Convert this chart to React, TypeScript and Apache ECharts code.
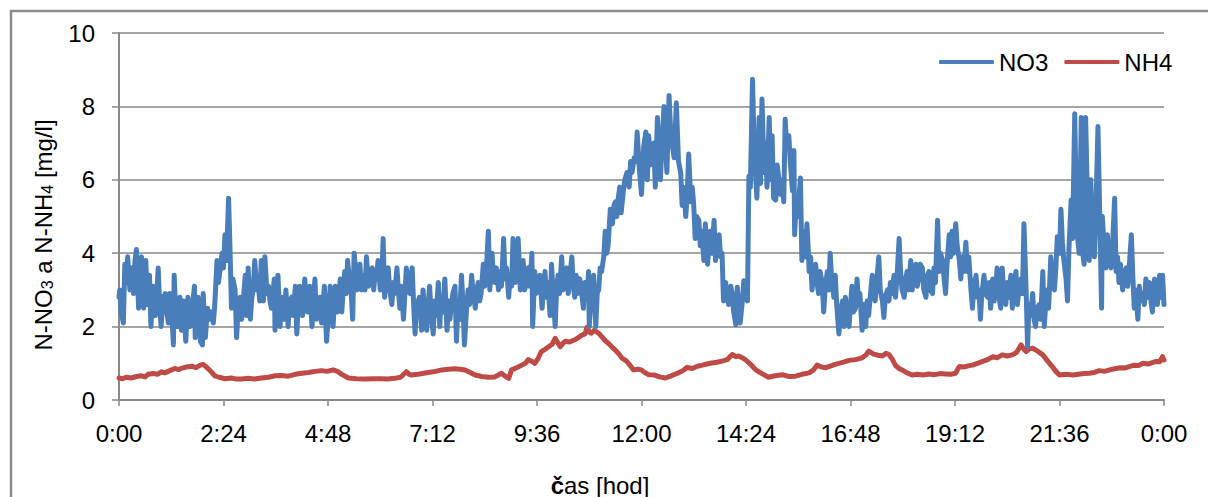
import React, { useEffect, useRef } from "react";
import * as echarts from "echarts";

// time in minutes from midnight, value in mg/l
const no3Night: [number, number][] = [
  [0, 2.8], [1, 3.0], [3, 2.4], [6, 2.1], [8, 3.7], [10, 3.2], [12, 3.9], [15, 3.0], [18, 3.6], [20, 2.9], [22, 3.8], [24, 4.1],
  [27, 2.5], [29, 3.3], [31, 3.9], [34, 2.5], [37, 3.8], [39, 2.6], [42, 3.4], [44, 2.0], [47, 3.1], [50, 2.3], [52, 2.9], [54, 3.6],
  [56, 2.6], [58, 2.0], [61, 2.8], [64, 2.9], [66, 2.4], [68, 2.1], [70, 2.9], [72, 2.6], [75, 1.5], [76, 3.4], [78, 2.5], [80, 2.0],
  [82, 2.6], [84, 2.8], [86, 1.9], [89, 2.7], [92, 1.6], [95, 2.8], [98, 2.0], [101, 2.5], [104, 3.1], [105, 1.7], [107, 2.4], [109, 2.8],
  [112, 1.6], [115, 1.5], [116, 2.9], [119, 1.7], [122, 2.5], [125, 2.2], [128, 2.4], [130, 2.1], [132, 2.6], [135, 3.8], [137, 3.2],
  [139, 3.5], [142, 4.0], [144, 3.6], [146, 4.5], [148, 3.8], [151, 5.5], [153, 4.1], [155, 2.5], [157, 3.3], [160, 3.0], [162, 1.7],
  [164, 2.4], [167, 2.8], [169, 2.2], [172, 2.9], [174, 3.4], [176, 2.3], [178, 3.6], [181, 2.2], [183, 2.8], [185, 3.0], [187, 3.8],
  [190, 3.0], [192, 3.1], [194, 2.7], [196, 3.8], [199, 2.7], [201, 3.9], [204, 2.9], [206, 3.1], [208, 2.7], [210, 2.5], [212, 2.9],
  [214, 3.3], [215, 1.9], [217, 2.7], [219, 3.4], [222, 2.0], [224, 2.8], [226, 2.6], [228, 2.2], [230, 3.0], [233, 2.0], [235, 2.7],
  [238, 2.8], [240, 2.3], [243, 3.1], [245, 1.8], [247, 2.6], [249, 3.1], [251, 2.6], [253, 2.3], [256, 3.3], [258, 2.7], [260, 2.4],
  [263, 3.1], [266, 2.0], [268, 2.7], [270, 3.3], [272, 2.2], [275, 2.6], [277, 2.8], [279, 2.1], [281, 2.6], [283, 3.1], [286, 1.6],
  [289, 2.4], [291, 3.1], [293, 2.6], [295, 2.0], [298, 3.1], [301, 2.4], [303, 2.9], [305, 3.3], [307, 2.4], [309, 3.0], [311, 3.5],
  [313, 2.9], [315, 3.8], [318, 3.2], [320, 2.9], [322, 2.2], [324, 4.0], [326, 3.6], [328, 3.0], [330, 3.3], [332, 3.7], [334, 3.0],
  [337, 3.4], [339, 3.0], [341, 3.9], [344, 3.1], [346, 3.4], [349, 3.6], [351, 3.0], [353, 3.5], [355, 3.3], [357, 3.8], [360, 3.0],
  [362, 3.2], [364, 4.4], [366, 2.8],
];

const no3Morning: [number, number][] = [
  [368, 3.4], [371, 3.6], [373, 3.0], [376, 2.6], [378, 3.2], [380, 2.9], [383, 3.6], [385, 3.0], [387, 2.5], [389, 3.1], [392, 2.2],
  [394, 2.9], [396, 3.6], [398, 3.0], [401, 2.9], [402, 3.3], [404, 3.6], [406, 2.6], [408, 1.8], [410, 2.7], [412, 2.3], [414, 2.8],
  [417, 1.9], [419, 3.0], [421, 2.4], [424, 1.9], [426, 2.6], [428, 3.1], [430, 2.4], [433, 1.8], [435, 2.7], [437, 2.3], [440, 3.2],
  [442, 2.0], [444, 2.8], [446, 2.4], [449, 3.3], [452, 1.9], [454, 2.7], [456, 2.2], [458, 2.6], [460, 2.9], [463, 3.1], [465, 1.6],
  [467, 2.6], [469, 2.2], [472, 3.4], [474, 2.6], [476, 1.5], [479, 2.5], [481, 3.0], [483, 2.6], [486, 3.4], [488, 2.9], [491, 2.5],
  [493, 3.0], [495, 3.2], [497, 2.7], [499, 2.9], [502, 3.7], [504, 3.1], [506, 3.5], [509, 4.6], [511, 3.0], [514, 4.0], [516, 3.4],
  [518, 3.2], [520, 3.6], [523, 3.0], [525, 3.5], [527, 3.1], [530, 4.4], [532, 3.3], [534, 3.6], [537, 2.8], [539, 3.4], [541, 3.1],
  [543, 4.4], [546, 3.2], [548, 3.6], [550, 4.4], [553, 3.0], [555, 3.4], [557, 3.8], [559, 3.0], [562, 3.2], [564, 3.6], [566, 3.1],
  [569, 4.0], [570, 2.0], [573, 3.5], [575, 2.9], [578, 3.0], [580, 3.4], [583, 2.5], [585, 3.0], [587, 3.5], [589, 2.8], [591, 3.2],
  [594, 2.3], [596, 3.7], [598, 3.0], [601, 2.0], [603, 3.0], [605, 3.4], [607, 2.9], [610, 3.9], [612, 3.0], [615, 3.2], [617, 3.6],
  [619, 2.9], [621, 3.3], [624, 3.9], [626, 3.1], [628, 2.8], [630, 3.4], [632, 2.9], [635, 3.3], [637, 3.0], [640, 2.5], [642, 3.2],
  [645, 2.8], [647, 3.5], [648, 2.0], [651, 3.0], [654, 3.4], [657, 2.0], [659, 2.9], [661, 3.0], [663, 3.6], [665, 3.5], [668, 3.9],
  [670, 4.6], [672, 4.0], [674, 4.2], [677, 5.2], [680, 4.8], [682, 5.3], [684, 5.4], [686, 5.0], [688, 5.5], [690, 5.8], [692, 5.1],
  [695, 5.7], [697, 6.0], [700, 6.2], [703, 5.8], [705, 6.5], [707, 6.2], [710, 6.6],
];

const no3Afternoon: [number, number][] = [
  [712, 6.5], [714, 7.3], [717, 6.3], [720, 5.6], [723, 6.9], [726, 7.3], [728, 6.0], [730, 7.2], [732, 6.4], [735, 6.8], [737, 7.0],
  [739, 5.8], [742, 7.7], [744, 6.6], [746, 6.0], [748, 6.9], [751, 8.0], [753, 7.0], [755, 6.2], [758, 8.3], [760, 7.4], [762, 7.0],
  [765, 6.6], [768, 8.1], [771, 6.5], [774, 6.2], [776, 5.3], [778, 5.8], [781, 5.0], [783, 5.6], [785, 6.7], [788, 5.4], [790, 5.8],
  [792, 5.3], [794, 4.4], [796, 5.0], [799, 4.9], [801, 4.2], [803, 4.6], [806, 3.8], [808, 4.8], [811, 3.7], [813, 4.2], [815, 4.6],
  [817, 4.0], [820, 4.9], [822, 3.8], [824, 4.3], [827, 4.5], [829, 3.9], [831, 4.0], [833, 2.7], [836, 3.2], [838, 2.8], [840, 2.6],
  [843, 3.1], [845, 2.9], [847, 2.4], [850, 2.05], [852, 3.07], [854, 2.5], [856, 2.1], [859, 2.7], [861, 3.25], [863, 2.8], [866, 2.7],
  [868, 6.1], [870, 5.8], [873, 8.74], [875, 7.0], [877, 6.2], [879, 5.5], [882, 7.7], [884, 5.9], [886, 8.2], [889, 6.2], [891, 7.0],
  [893, 5.8], [896, 7.7], [898, 6.0], [900, 7.2], [902, 5.5], [905, 5.45], [907, 6.4], [910, 5.9], [912, 5.6], [914, 6.0], [916, 5.4],
  [918, 7.65], [920, 6.9], [923, 7.2], [925, 6.5], [928, 5.7], [930, 6.8], [931, 4.5], [933, 5.3], [935, 5.0], [937, 5.5], [939, 6.05],
  [941, 3.8], [943, 4.6], [944, 4.3], [946, 3.9], [948, 4.8], [950, 4.0], [951, 3.5], [953, 3.9], [955, 3.0], [957, 3.4], [960, 3.7],
  [962, 3.2], [964, 2.9], [966, 3.5], [969, 3.2], [971, 2.4], [973, 3.0], [976, 3.5], [978, 3.0], [980, 4.0], [982, 3.3], [985, 2.8],
  [987, 3.4], [989, 2.6], [992, 1.8], [994, 2.4], [997, 2.7], [999, 2.0], [1001, 2.8], [1003, 2.3], [1006, 2.0], [1008, 2.6], [1010, 3.1],
  [1012, 2.4], [1015, 2.5], [1017, 3.3], [1019, 2.7], [1021, 2.9], [1024, 1.9], [1026, 2.6], [1029, 2.0], [1031, 2.7], [1033, 2.3],
  [1036, 3.0], [1038, 3.4], [1040, 2.9], [1042, 2.7], [1044, 3.2], [1047, 3.9], [1049, 3.0], [1052, 2.7], [1054, 2.25], [1056, 2.8],
  [1059, 3.0], [1061, 2.7], [1063, 3.2], [1065, 2.9], [1068, 3.4], [1070, 2.8], [1072, 3.3], [1075, 4.4], [1077, 3.5], [1079, 3.0],
];

const no3Evening: [number, number][] = [
  [1082, 2.8], [1084, 3.3], [1086, 3.5], [1088, 3.0], [1091, 3.8], [1093, 3.0], [1095, 3.4], [1098, 3.7], [1100, 3.1], [1102, 3.3],
  [1104, 3.7], [1107, 3.6], [1109, 3.0], [1112, 2.8], [1114, 3.4], [1116, 3.5], [1118, 3.0], [1121, 2.9], [1123, 3.6], [1125, 3.2],
  [1128, 4.9], [1130, 3.5], [1132, 4.0], [1135, 3.8], [1137, 3.3], [1139, 2.9], [1141, 3.7], [1144, 4.5], [1146, 3.9], [1148, 4.6],
  [1150, 4.0], [1153, 4.8], [1155, 4.2], [1158, 3.8], [1160, 3.3], [1162, 3.9], [1164, 3.5], [1167, 4.3], [1169, 3.5], [1171, 3.9],
  [1174, 3.0], [1176, 2.5], [1178, 3.1], [1181, 3.4], [1183, 2.8], [1185, 3.0], [1187, 2.2], [1189, 2.9], [1192, 3.4], [1194, 2.9],
  [1197, 2.8], [1199, 3.2], [1201, 2.5], [1204, 3.3], [1206, 2.7], [1208, 2.9], [1210, 3.6], [1212, 2.9], [1215, 2.5], [1217, 3.6],
  [1219, 3.0], [1222, 2.6], [1224, 3.2], [1226, 2.8], [1229, 3.4], [1231, 2.5], [1233, 3.1], [1236, 3.5], [1238, 2.6], [1240, 3.0],
  [1243, 3.3], [1245, 2.9], [1247, 4.8], [1250, 3.0], [1252, 1.45], [1254, 2.6], [1256, 2.3], [1259, 2.9], [1261, 2.2], [1263, 2.0],
  [1265, 2.5], [1268, 2.6], [1270, 2.2], [1273, 3.5], [1275, 2.0], [1277, 2.6], [1279, 3.0], [1281, 2.5], [1284, 3.9], [1286, 3.2],
  [1289, 3.0], [1291, 3.6], [1293, 4.45], [1296, 4.0], [1298, 5.2], [1300, 4.3], [1302, 3.8], [1305, 3.3], [1307, 2.7], [1309, 4.1],
  [1312, 5.45], [1314, 4.4], [1317, 7.8], [1319, 5.5], [1321, 4.4], [1323, 4.0], [1326, 7.7], [1328, 4.0], [1330, 3.7], [1332, 7.7],
  [1335, 5.0], [1337, 3.8], [1339, 6.0], [1342, 4.5], [1344, 3.9], [1346, 5.0], [1349, 7.45], [1351, 5.5], [1354, 2.5], [1355, 5.0],
  [1358, 4.0], [1360, 3.6], [1362, 4.5], [1364, 3.9], [1367, 3.6], [1369, 4.2], [1372, 5.5], [1374, 3.5], [1376, 3.9], [1378, 3.2],
  [1380, 3.7], [1383, 3.0], [1385, 3.4], [1388, 3.6], [1390, 3.1], [1392, 3.6], [1395, 4.5], [1397, 3.4], [1399, 2.5], [1401, 3.0],
  [1404, 2.2], [1406, 3.1], [1408, 2.7], [1411, 2.9], [1413, 2.6], [1415, 3.3], [1418, 2.8], [1420, 3.2], [1422, 2.7], [1424, 2.4],
  [1427, 3.3], [1429, 2.9], [1431, 2.6], [1434, 3.4], [1436, 2.8], [1438, 3.4], [1440, 2.6],
];

const nh4FirstHalf: [number, number][] = [
  [0, 0.6], [5, 0.58], [10, 0.62], [17, 0.6], [24, 0.64], [31, 0.66], [36, 0.63], [40, 0.7], [47, 0.72], [53, 0.7],
  [59, 0.77], [63, 0.74], [70, 0.8], [77, 0.86], [82, 0.83], [86, 0.86], [93, 0.9], [100, 0.92], [106, 0.88], [112, 0.95],
  [116, 0.97], [119, 0.92], [123, 0.85], [128, 0.75], [132, 0.66], [138, 0.62], [146, 0.58], [155, 0.6], [162, 0.57], [169, 0.57],
  [178, 0.59], [187, 0.57], [196, 0.6], [206, 0.62], [215, 0.66], [224, 0.67], [233, 0.65], [243, 0.7], [252, 0.73], [261, 0.75],
  [270, 0.78], [279, 0.8], [287, 0.78], [295, 0.82], [301, 0.78], [307, 0.7], [316, 0.6], [327, 0.58], [339, 0.57], [350, 0.58],
  [362, 0.58], [370, 0.57], [380, 0.59], [388, 0.62], [396, 0.77], [400, 0.7], [403, 0.68], [414, 0.71], [426, 0.75], [436, 0.78],
  [445, 0.82], [454, 0.84], [463, 0.85], [470, 0.84], [477, 0.82], [484, 0.75], [491, 0.68], [500, 0.64], [509, 0.62], [518, 0.63],
  [527, 0.73], [532, 0.65], [537, 0.59], [541, 0.82], [548, 0.88], [555, 0.95], [560, 1.0], [564, 1.1], [569, 1.05], [573, 1.0],
  [578, 1.15], [582, 1.32], [587, 1.38], [592, 1.45], [597, 1.52], [601, 1.68], [605, 1.55], [608, 1.45], [612, 1.55], [615, 1.6],
  [621, 1.58], [628, 1.64], [633, 1.7], [638, 1.77], [642, 1.8], [645, 1.98], [648, 1.85], [651, 1.82], [655, 1.9], [658, 1.86],
  [662, 1.8], [665, 1.73], [670, 1.62], [674, 1.55], [679, 1.45], [684, 1.36], [689, 1.25], [693, 1.14], [698, 1.08], [702, 1.0],
  [706, 0.9], [709, 0.82], [715, 0.84],
];

const nh4SecondHalf: [number, number][] = [
  [720, 0.82], [725, 0.74], [730, 0.69], [738, 0.68], [745, 0.63], [753, 0.6], [760, 0.65], [766, 0.7], [771, 0.74], [777, 0.8],
  [783, 0.89], [790, 0.86], [797, 0.92], [804, 0.95], [810, 0.98], [817, 1.01], [824, 1.03], [831, 1.06], [838, 1.1], [845, 1.24],
  [850, 1.18], [854, 1.2], [858, 1.16], [863, 1.1], [870, 0.98], [877, 0.83], [886, 0.72], [895, 0.62], [904, 0.66], [914, 0.69],
  [923, 0.64], [932, 0.65], [941, 0.7], [951, 0.74], [957, 0.82], [962, 0.95], [968, 0.9], [974, 0.88], [981, 0.93], [987, 0.97],
  [996, 1.02], [1006, 1.08], [1015, 1.1], [1024, 1.15], [1029, 1.22], [1033, 1.33], [1040, 1.25], [1046, 1.22], [1052, 1.2], [1057, 1.27],
  [1061, 1.24], [1066, 1.1], [1070, 0.94], [1075, 0.86], [1079, 0.82], [1086, 0.74], [1093, 0.68], [1100, 0.7], [1108, 0.68], [1116, 0.71],
  [1124, 0.69], [1131, 0.72], [1139, 0.71], [1146, 0.7], [1153, 0.73], [1156, 0.85], [1158, 0.91], [1165, 0.9], [1170, 0.93], [1176, 0.95],
  [1183, 1.0], [1190, 1.05], [1197, 1.1], [1204, 1.18], [1210, 1.15], [1217, 1.23], [1224, 1.2], [1231, 1.23], [1237, 1.3], [1243, 1.5],
  [1247, 1.38], [1250, 1.32], [1255, 1.4], [1259, 1.41], [1266, 1.33], [1273, 1.23], [1279, 1.08], [1286, 0.91], [1291, 0.78], [1296, 0.68],
  [1305, 0.7], [1314, 0.68], [1322, 0.7], [1330, 0.72], [1337, 0.73], [1344, 0.75], [1351, 0.8], [1358, 0.78], [1365, 0.82], [1372, 0.85],
  [1380, 0.88], [1386, 0.87], [1392, 0.91], [1399, 0.95], [1405, 0.94], [1411, 1.0], [1418, 0.98], [1424, 1.02], [1429, 1.05], [1434, 1.04],
  [1438, 1.18], [1440, 1.09],
];

const seriesNames = ["NO3", "NH4"];
const yTitle = "N-NO{s|3} a N-NH{s|4} [mg/l]";
const xTitle = "{b|č}as [hod]";

const FONT = "'Liberation Sans', Arial, sans-serif";
const BLUE = "#4a7ebb";
const RED = "#be4b48";
const GRAY = "#898989";

function fmtTime(v: number): string {
  const h = Math.floor(v / 60) % 24;
  const m = Math.round(v % 60);
  return h + ":" + (m < 10 ? "0" + m : String(m));
}

export default function App() {
  const ref = useRef<HTMLDivElement>(null);
  useEffect(() => {
    if (!ref.current) return;
    const chart = echarts.init(ref.current, null, { renderer: "svg" });
    const no3 = [...no3Night, ...no3Morning, ...no3Afternoon, ...no3Evening];
    const nh4 = [...nh4FirstHalf, ...nh4SecondHalf];
    chart.setOption({
      animation: false,
      backgroundColor: "#ffffff",
      grid: { left: 119, right: 44, top: 33, bottom: 97 },
      legend: {
        data: seriesNames,
        left: 939,
        top: 50,
        padding: 0,
        itemWidth: 55,
        itemHeight: 4,
        itemGap: 16,
        icon: "roundRect",
        textStyle: { fontSize: 24, fontFamily: FONT, color: "#000" },
      },
      xAxis: {
        type: "value",
        min: 0,
        max: 1440,
        interval: 144,
        axisLine: { show: true, lineStyle: { color: GRAY, width: 2 } },
        axisTick: { show: true, length: 6, inside: false, lineStyle: { color: GRAY, width: 1.5 } },
        splitLine: { show: false },
        axisLabel: {
          formatter: (v: number) => fmtTime(v),
          fontSize: 24,
          fontFamily: FONT,
          color: "#000",
          margin: 21,
          showMinLabel: true,
          showMaxLabel: true,
        },
      },
      yAxis: {
        type: "value",
        min: 0,
        max: 10,
        interval: 2,
        axisLine: { show: true, lineStyle: { color: GRAY, width: 2 } },
        axisTick: { show: true, length: 7, lineStyle: { color: GRAY, width: 1.5 } },
        splitLine: { show: true, lineStyle: { color: GRAY, width: 1.5 } },
        axisLabel: { fontSize: 24, fontFamily: FONT, color: "#000", margin: 24 },
      },
      graphic: [
        {
          type: "polyline",
          shape: { points: [[11, 540], [11, 11], [1240, 11]] },
          style: { stroke: "#8c8c8c", lineWidth: 2.5, fill: null },
          silent: true,
        },
        {
          type: "text",
          x: 43,
          y: 235,
          rotation: Math.PI / 2,
          style: {
            text: yTitle,
            fontSize: 24,
            fontFamily: FONT,
            fill: "#000",
            align: "center",
            verticalAlign: "middle",
            rich: {
              s: { fontSize: 16, fontFamily: FONT, fill: "#000", verticalAlign: "bottom", lineHeight: 16 },
            },
          },
        },
        {
          type: "text",
          x: 600,
          y: 485,
          style: {
            text: xTitle,
            fontSize: 24,
            fontFamily: FONT,
            fill: "#000",
            align: "center",
            verticalAlign: "middle",
            rich: {
              b: { fontSize: 24, fontFamily: FONT, fontWeight: "bold", fill: "#000" },
            },
          },
        },
      ],
      series: [
        {
          name: seriesNames[0],
          type: "line",
          data: no3,
          showSymbol: false,
          symbol: "none",
          z: 3,
          color: BLUE,
          lineStyle: { color: BLUE, width: 5, cap: "round", join: "round" },
        },
        {
          name: seriesNames[1],
          type: "line",
          data: nh4,
          showSymbol: false,
          symbol: "none",
          z: 2,
          color: RED,
          lineStyle: { color: RED, width: 5, cap: "round", join: "round" },
        },
      ],
    });
    return () => chart.dispose();
  }, []);
  return (
    <div
      ref={ref}
      style={{ position: "absolute", left: 0, top: 0, width: 1208, height: 497, background: "#fff" }}
    />
  );
}
